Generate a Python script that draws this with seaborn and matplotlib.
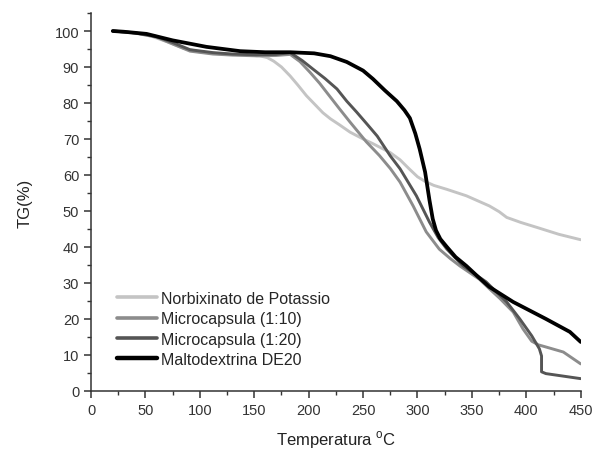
import numpy as np
import pandas as pd
import seaborn as sns
import matplotlib
matplotlib.use("Agg")
import matplotlib.pyplot as plt
from matplotlib.ticker import MultipleLocator

# Thermogravimetric curves (temperature in °C, residual mass in %)
series_names = ["Norbixinato de Potassio", "Microcapsula (1:10)",
                "Microcapsula (1:20)", "Maltodextrina DE20"]

t_norbix = [20, 40, 55, 70, 85, 100, 120, 140, 155, 162, 168, 175, 183, 190,
            198, 206, 213, 220, 228, 238, 250, 259, 275, 284, 292, 300, 307,
            315, 327, 345, 366, 375, 382, 395, 410, 430, 450]
tg_norbix = [100, 99.4, 98.6, 97, 95.2, 94.2, 93.6, 93.4, 93.1, 92.6, 91.6,
             90.0, 87.5, 85, 82, 79.5, 77.3, 75.6, 74.0, 71.9, 70.0, 68.7,
             66.2, 64.2, 61.8, 59.5, 58.2, 57.1, 56.0, 54.2, 51.4, 49.8, 48.2,
             46.8, 45.4, 43.5, 42]

t_mc10 = [20, 40, 60, 75, 91, 112, 130, 152, 170, 183, 192, 201, 210, 219,
          228, 238, 253, 265, 275, 284, 296, 308, 320, 330, 339, 357, 366,
          376, 388, 397, 405, 411, 418, 434, 450]
tg_mc10 = [100, 99.5, 98.3, 96.4, 94.4, 93.6, 93.3, 93.1, 93.2, 93.5, 91.5,
           88.6, 85.5, 82, 78.5, 74.7, 69.2, 65.4, 61.8, 58, 51.4, 44.2, 39.4,
           36.8, 34.7, 31, 28.4, 25.6, 21.9, 17.2, 13.8, 12.8, 12.2, 10.8, 7.5]

t_mc20 = [20, 40, 60, 75, 91, 112, 130, 152, 170, 183, 194, 204, 215, 226,
          235, 244, 254, 263, 275, 284, 299, 311, 319, 327, 342, 363, 382,
          394, 405, 412, 414, 414, 418, 450]
tg_mc20 = [100, 99.5, 98.5, 96.8, 94.8, 94, 93.6, 93.4, 93.5, 94, 91.8, 89.4,
           86.8, 83.9, 80.5, 77.5, 74, 70.8, 65.3, 61.7, 54.2, 46.9, 42.6,
           39.4, 34.7, 30.3, 24.7, 20, 15.3, 11.7, 9.7, 5.3, 4.8, 3.4]

t_malto = [20, 30, 51, 75, 106, 137, 160, 183, 205, 220, 235, 250, 259, 270,
           281, 288, 293, 298, 302, 307, 311, 314, 317, 321, 327, 335, 345,
           356, 366, 388, 418, 440, 450]
tg_malto = [100, 99.8, 99.2, 97.4, 95.6, 94.4, 94.1, 94.1, 93.8, 93.0, 91.4,
            89, 86.7, 83.5, 80.5, 78, 75.8, 71.5, 67.2, 60.8, 53.0, 47.8, 44.6,
            42.2, 40.0, 37.2, 34.7, 31.6, 28.9, 24.7, 20, 16.4, 13.6]

x_ticks = [0, 50, 100, 150, 200, 250, 300, 350, 400, 450]
y_ticks = [0, 10, 20, 30, 40, 50, 60, 70, 80, 90, 100]

frames = []
for name, t, tg in zip(series_names,
                       [t_norbix, t_mc10, t_mc20, t_malto],
                       [tg_norbix, tg_mc10, tg_mc20, tg_malto]):
    frames.append(pd.DataFrame({"T": t, "TG": tg, "amostra": name,
                                "ordem": np.arange(len(t))}))
df = pd.concat(frames, ignore_index=True)

sns.set_theme(style="ticks")
plt.rcParams["font.family"] = ["Liberation Sans", "DejaVu Sans"]
plt.rcParams["mathtext.fontset"] = "custom"
plt.rcParams["mathtext.rm"] = "Liberation Sans"

colors = {"Norbixinato de Potassio": "#c4c4c4",
          "Microcapsula (1:10)": "#8c8c8c",
          "Microcapsula (1:20)": "#555555",
          "Maltodextrina DE20": "#000000"}
widths = {"Norbixinato de Potassio": 2.1,
          "Microcapsula (1:10)": 2.1,
          "Microcapsula (1:20)": 2.1,
          "Maltodextrina DE20": 2.7}

fig = plt.figure(figsize=(5.95, 4.52), dpi=100)
ax = fig.add_axes([0.153, 0.133, 0.823, 0.836])

for name in series_names:
    sub = df[df["amostra"] == name]
    sns.lineplot(data=sub, x="T", y="TG", ax=ax, color=colors[name],
                 linewidth=widths[name], estimator=None, sort=False,
                 label=name)
for line in ax.get_lines():
    line.set_solid_joinstyle("round")

ax.set_xlim(0, 450)
ax.set_ylim(0, 105)
ax.set_xticks(x_ticks)
ax.set_yticks(y_ticks)
ax.xaxis.set_minor_locator(MultipleLocator(25))
ax.yaxis.set_minor_locator(MultipleLocator(5))
ax.tick_params(which="major", length=5, width=1.1, direction="out",
               labelsize=10.5, labelcolor="#333333", color="#333333")
ax.tick_params(which="minor", length=3, width=1.0, direction="out",
               color="#333333")
for side in ["top", "right"]:
    ax.spines[side].set_visible(False)
for side in ["left", "bottom"]:
    ax.spines[side].set_linewidth(1.1)
    ax.spines[side].set_color("#333333")

ax.set_xlabel(r"Temperatura $^{\mathregular{o}}$C", fontsize=12,
              color="#222222", labelpad=8)
ax.set_ylabel("TG(%)", fontsize=12, color="#222222", labelpad=16)

leg = ax.legend(loc="lower left", bbox_to_anchor=(0.03, 0.034),
                frameon=False, fontsize=11.5, handlelength=2.5,
                handletextpad=0.25, labelspacing=0.33, borderpad=0.2)
for line, name in zip(leg.get_lines(), series_names):
    line.set_linewidth(widths[name] + 0.5)

fig.savefig("out.png", dpi=100)
